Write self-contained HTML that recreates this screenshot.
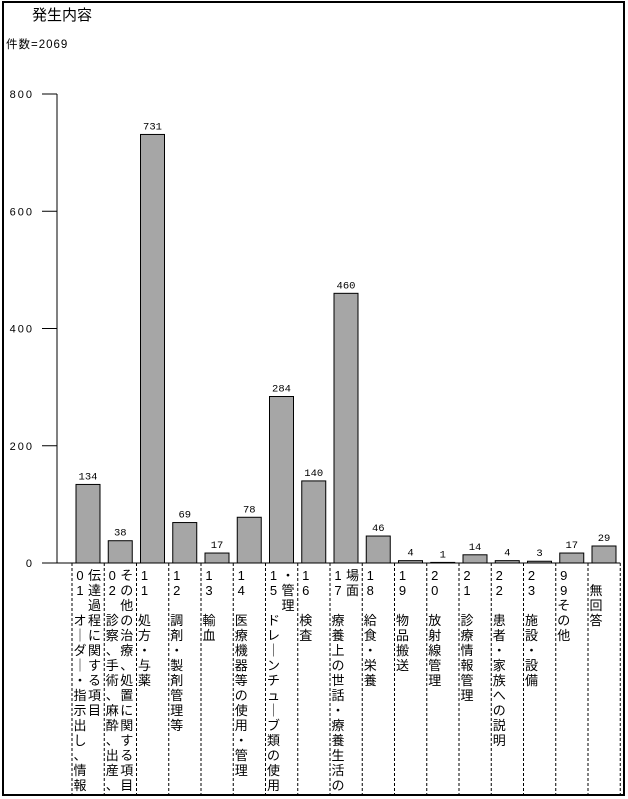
<!DOCTYPE html>
<html><head><meta charset="utf-8">
<style>
html,body{margin:0;padding:0;background:#fff;}
svg{display:block;font-family:"Liberation Sans","Noto Sans CJK JP",sans-serif;}
</style></head>
<body>
<svg id="chart" width="628" height="799" viewBox="0 0 628 799">
<rect x="3" y="2" width="621" height="793" fill="none" stroke="#000" stroke-width="2"/>
<text x="32" y="20" font-size="15">発生内容</text>
<text x="6" y="48" font-size="11.5" letter-spacing="1">件数=2069</text>
<g id="axes"></g>
<g id="bars"></g>
<g id="labels"></g>
</svg>
<script>
const categories = ["01","02","11","12","13","14","15","16","17","18","19","20","21","22","23","99","無回答"];
const values = [134,38,731,69,17,78,284,140,460,46,4,1,14,4,3,17,29];
const yTicks = [0,200,400,600,800];
const labelColumns = [
 [["0","1"," ","オ","｜","ダ","｜","・","指","示","出","し","、","情","報"],["伝","達","過","程","に","関","す","る","項","目"]],
 [["0","2"," ","診","察","、","手","術","、","麻","酔","、","出","産","、"],["そ","の","他","の","治","療","、","処","置","に","関","す","る","項","目"]],
 [["1","1"," ","処","方","・","与","薬"]],
 [["1","2"," ","調","剤","・","製","剤","管","理","等"]],
 [["1","3"," ","輸","血"]],
 [["1","4"," ","医","療","機","器","等","の","使","用","・","管","理"]],
 [["1","5"," ","ド","レ","｜","ン","チ","ュ","｜","ブ","類","の","使","用"],["・","管","理"]],
 [["1","6"," ","検","査"]],
 [["1","7"," ","療","養","上","の","世","話","・","療","養","生","活","の"],["場","面"]],
 [["1","8"," ","給","食","・","栄","養"]],
 [["1","9"," ","物","品","搬","送"]],
 [["2","0"," ","放","射","線","管","理"]],
 [["2","1"," ","診","療","情","報","管","理"]],
 [["2","2"," ","患","者","・","家","族","へ","の","説","明"]],
 [["2","3"," ","施","設","・","設","備"]],
 [["9","9","そ","の","他"]],
 [[" ","無","回","答"]]
];
const NS="http://www.w3.org/2000/svg";
const X0=72, SLOT=32.25, Y0=563, YTOP=94, YMAX=800;
function yScale(v){return Y0-(v/YMAX)*(Y0-YTOP);}
function xSlot(i){return X0+i*SLOT;}
function mk(tag,attrs,parent){const e=document.createElementNS(NS,tag);for(const k in attrs)e.setAttribute(k,attrs[k]);parent.appendChild(e);return e;}
const axes=document.getElementById('axes'),bars=document.getElementById('bars'),labels=document.getElementById('labels');
let yl=mk('line',{x1:57,y1:YTOP,x2:57,y2:Y0,stroke:'#000','stroke-width':1},axes);


let xl=mk('line',{x1:42,y1:Y0,x2:xSlot(categories.length),y2:Y0,stroke:'#000','stroke-width':1},axes);


yTicks.forEach(t=>{
 const y=yScale(t);
 let tl=mk('line',{x1:42,y1:y,x2:57,y2:y,stroke:'#000'},axes);
 
 
 let tx=mk('text',{x:34,y:y+4,'font-size':11,'text-anchor':'end','letter-spacing':2},axes);
 tx.textContent=String(t);
 
 
});
for(let i=0;i<=categories.length;i++){
 const x=xSlot(i);
 let d=mk('line',{x1:x,y1:Y0,x2:x,y2:794,stroke:'#000','stroke-dasharray':'3,2'},axes);
 
 
}
values.forEach((v,i)=>{
 const x=xSlot(i)+4, y=yScale(v);
 let r=mk('rect',{x:x,y:y,width:24,height:Y0-y,fill:'#a6a6a6',stroke:'#000','stroke-width':1},bars);
 
 
 let t=mk('text',{x:x+12,y:y-5,'font-size':10.5,'text-anchor':'middle','font-family':'Liberation Mono, monospace'},bars);
 t.textContent=String(v);
 
 
});
labelColumns.forEach((cols,i)=>{
 const g=mk('g',{},labels);
 
 
 cols.forEach((col,c)=>{
  const cx=xSlot(i)+8+c*14.5;
  col.forEach((ch,r)=>{
   if(ch===' ')return;
   const t=mk('text',{x:cx,y:580+r*15,'font-size':13,'text-anchor':'middle'},g);
   t.textContent=ch;
  });
 });
});
</script>
</body></html>
